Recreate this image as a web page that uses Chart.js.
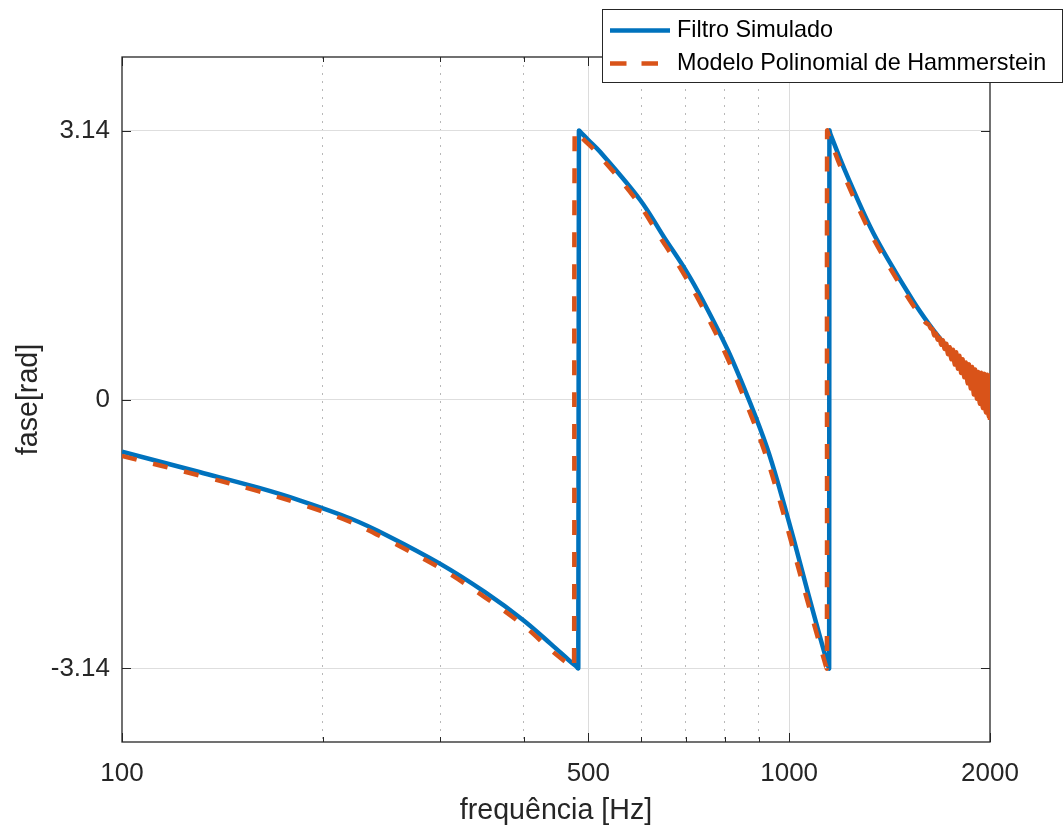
<!DOCTYPE html>
<html lang="pt">
<head>
<meta charset="UTF-8">
<title>fase</title>
<style>
  body { margin: 0; padding: 0; background: #fff; overflow: hidden; }
</style>
</head>
<body>
<canvas id="fase" width="1064" height="832"></canvas>
<script src="https://cdn.jsdelivr.net/npm/chart.js@4/dist/chart.umd.min.js"></script>
<script>
// valores (frequência em Hz, fase em rad)
const freqSimulado = [100, 131, 160, 185, 220, 250, 300, 350, 400, 440, 470, 480, 483,
  484, 487, 500, 521, 598, 650, 701, 743, 810, 874, 927, 969, 1014, 1068, 1113, 1144, 1148,
  1149, 1153, 1213, 1322, 1403, 1534, 1620, 1684, 1805, 1900, 2000];
const faseSimulado = [-0.61, -0.85, -1.03, -1.18, -1.39, -1.59, -1.92, -2.25, -2.58, -2.86, -3.06, -3.12, -3.14,
  3.14, 3.12, 3.03, 2.89, 2.33, 1.89, 1.50, 1.15, 0.57, -0.04, -0.57, -1.06, -1.61, -2.27, -2.78, -3.11, -3.14,
  3.14, 3.10, 2.67, 2.02, 1.65, 1.15, 0.88, 0.71, 0.43, 0.24, 0.07];

const freqModelo = [100, 131, 160, 185, 220, 250, 300, 350, 400, 440, 465, 474, 476,
  477, 480, 493, 514, 590, 641, 691, 733, 799, 862, 915, 958, 1003, 1058, 1104, 1135, 1139,
  1140, 1144, 1201, 1309, 1389, 1519, 1600,
  1620, 1630, 1640, 1650, 1660, 1670, 1680, 1690, 1700, 1710, 1720, 1730, 1740, 1750, 1760, 1770, 1780, 1790,
  1800, 1810, 1820, 1830, 1840, 1850, 1860, 1870, 1880, 1890, 1900, 1910, 1920, 1930, 1940, 1950, 1960, 1970,
  1980, 1990, 2000, 2000];
const faseModelo = [-0.66, -0.89, -1.07, -1.22, -1.43, -1.64, -1.97, -2.31, -2.64, -2.93, -3.08, -3.12, -3.14,
  3.14, 3.12, 3.03, 2.89, 2.33, 1.89, 1.50, 1.15, 0.57, -0.04, -0.57, -1.06, -1.61, -2.27, -2.78, -3.11, -3.14,
  3.14, 3.10, 2.67, 2.02, 1.65, 1.15, 0.90,
  0.87, 0.83, 0.82, 0.75, 0.77, 0.70, 0.72, 0.64, 0.69, 0.59, 0.65, 0.53, 0.61, 0.47, 0.58, 0.41, 0.55, 0.36,
  0.51, 0.31, 0.47, 0.26, 0.43, 0.19, 0.41, 0.13, 0.38, 0.06, 0.35, 0.01, 0.32, -0.05, 0.31, -0.10, 0.30, -0.15,
  0.29, -0.20, 0.28, -0.24];

const xGrid = [100, 200, 300, 400, 500, 600, 700, 800, 900, 1000, 2000];
const xLabels = [100, 500, 1000, 2000];
const yTicks = [-3.14, 0, 3.14];
const yLabels = ['-3.14', '0', '3.14'];
const nomes = ['Filtro Simulado', 'Modelo Polinomial de Hammerstein'];

const FONT = "'Liberation Sans', Arial, Helvetica, sans-serif";
const AXIS = '#262626';
const AZUL = '#0072BD';
const LARANJA = '#D95319';

// caixa dos eixos + marcas para dentro (estilo matlab)
const moldura = {
  id: 'moldura',
  beforeDatasetsDraw(chart) {
    const { ctx, chartArea: a, scales: { x, y } } = chart;
    ctx.save();
    ctx.strokeStyle = AXIS;
    ctx.lineWidth = 1;
    ctx.beginPath();
    xGrid.forEach(v => {
      const px = Math.round(x.getPixelForValue(v)) + 0.5;
      const len = xLabels.includes(v) ? 9 : 5;
      ctx.moveTo(px, a.bottom); ctx.lineTo(px, a.bottom - len);
      ctx.moveTo(px, a.top); ctx.lineTo(px, a.top + len);
    });
    yTicks.forEach(v => {
      const py = Math.round(y.getPixelForValue(v)) + 0.5;
      ctx.moveTo(a.left, py); ctx.lineTo(a.left + 9, py);
      ctx.moveTo(a.right, py); ctx.lineTo(a.right - 9, py);
    });
    ctx.stroke();
    ctx.lineWidth = 1.3;
    ctx.strokeRect(a.left, a.top, a.right - a.left, a.bottom - a.top);
    ctx.restore();
  }
};

const legenda = {
  id: 'legenda',
  afterDraw(chart) {
    const ctx = chart.ctx;
    const bx = 602.5, by = 9.5, bw = 460, bh = 73;
    ctx.save();
    ctx.fillStyle = '#fff';
    ctx.fillRect(bx, by, bw, bh);
    ctx.strokeStyle = AXIS;
    ctx.lineWidth = 1;
    ctx.strokeRect(bx, by, bw, bh);

    const rows = [by + 21, by + 54];
    ctx.lineWidth = 4.5;
    ctx.lineCap = 'butt';
    ctx.strokeStyle = AZUL;
    ctx.beginPath(); ctx.moveTo(610, rows[0]); ctx.lineTo(670, rows[0]); ctx.stroke();
    ctx.strokeStyle = LARANJA;
    ctx.setLineDash([16.5, 15]);
    ctx.beginPath(); ctx.moveTo(610, rows[1]); ctx.lineTo(670, rows[1]); ctx.stroke();
    ctx.setLineDash([]);

    ctx.fillStyle = '#000';
    ctx.font = '23.4px ' + FONT;
    ctx.textBaseline = 'middle';
    ctx.textAlign = 'left';
    nomes.forEach((n, i) => ctx.fillText(n, 677, rows[i]));
    ctx.restore();
  }
};

new Chart(document.getElementById('fase'), {
  type: 'line',
  data: {
    datasets: [
      {
        label: nomes[0],
        data: freqSimulado.map((f, i) => ({ x: f, y: faseSimulado[i] })),
        borderColor: AZUL,
        borderWidth: 4.5,
        borderJoinStyle: 'round',
        tension: 0.35,
        pointRadius: 0,
        order: 1
      },
      {
        label: nomes[1],
        data: freqModelo.map((f, i) => ({ x: f, y: faseModelo[i] })),
        borderColor: LARANJA,
        borderWidth: 4.5,
        borderDash: [15, 17],
        borderCapStyle: 'butt',
        tension: 0.35,
        pointRadius: 0,
        order: 0,
        // no trecho ruidoso o tracejado vira uma faixa cheia
        segment: { borderDash: c => c.p0.parsed.x >= 1620 ? [] : undefined }
      }
    ]
  },
  options: {
    responsive: false,
    animation: false,
    devicePixelRatio: 1,
    layout: { padding: { top: 57, right: 74, left: 0, bottom: 0 } },
    plugins: { legend: { display: false }, tooltip: { enabled: false } },
    scales: {
      x: {
        type: 'logarithmic',
        min: 100,
        max: 2000,
        afterBuildTicks: s => { s.ticks = xGrid.map(v => ({ value: v })); },
        afterFit: s => { s.height = 90; },
        ticks: {
          autoSkip: false,
          maxRotation: 0,
          padding: 16,
          color: AXIS,
          font: { family: FONT, size: 26 },
          callback: v => xLabels.includes(v) ? String(v) : ''
        },
        grid: {
          drawTicks: false,
          lineWidth: 1,
          color: c => {
            const v = c.tick ? c.tick.value : null;
            if (v === 100 || v === 2000) return 'rgba(0,0,0,0)';
            return xLabels.includes(v) ? '#dcdcdc' : '#b8b8b8';
          }
        },
        border: {
          display: false,
          dash: c => (c.tick && !xLabels.includes(c.tick.value)) ? [2, 6] : []
        },
        title: {
          display: true,
          text: 'frequência [Hz]',
          color: AXIS,
          font: { family: FONT, size: 28.6 },
          padding: { top: 0, bottom: 4 }
        }
      },
      y: {
        min: -4,
        max: 4,
        afterBuildTicks: s => { s.ticks = yTicks.map(v => ({ value: v })); },
        afterFit: s => { s.width = 122; },
        ticks: {
          padding: 12,
          color: AXIS,
          font: { family: FONT, size: 26 },
          callback: (v, i) => yLabels[i]
        },
        grid: { drawTicks: false, lineWidth: 1, color: '#dedede' },
        border: { display: false },
        title: {
          display: true,
          text: 'fase[rad]',
          color: AXIS,
          font: { family: FONT, size: 28.6 },
          padding: { top: 12, bottom: 0 }
        }
      }
    }
  },
  plugins: [moldura, legenda]
});
</script>
</body>
</html>
